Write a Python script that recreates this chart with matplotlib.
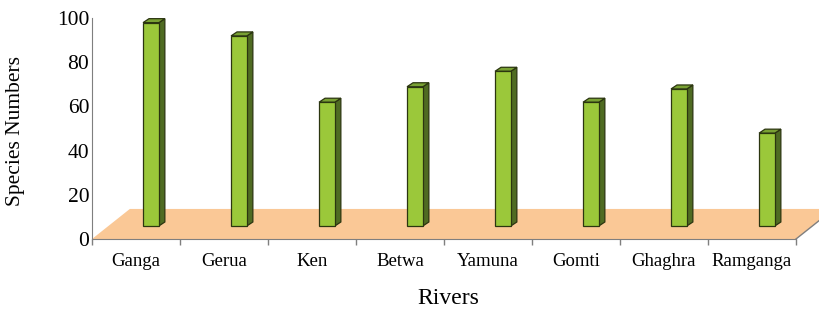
import matplotlib.pyplot as plt
from matplotlib.patches import Polygon
import numpy as np

# data
rivers = ['Ganga', 'Gerua', 'Ken', 'Betwa', 'Yamuna', 'Gomti', 'Ghaghra', 'Ramganga']
species = [92, 86, 56, 63, 70, 56, 62, 42]
yticks = [0, 20, 40, 60, 80, 100]

plt.rcParams['font.family'] = 'Liberation Serif'

# pseudo-3D settings (data units)
floor_dx, floor_dy = 0.43, 13.6     # depth of the floor
bar_dx, bar_dy = 0.17, 5.9          # bars sit at this depth
side_dx, side_dy = 0.068, 1.8       # depth of each bar
bar_w = 0.18

front_c = '#9BC83A'
side_c = '#4F6B22'
top_c = '#79A133'
edge_c = '#2B3510'
floor_c = '#FAC896'
axis_c = '#7F7F7F'

fig = plt.figure(figsize=(8.2, 3.12), dpi=100)
ax = fig.add_axes([92 / 820, (312 - 239) / 312, (796 - 92) / 820, (239 - 18) / 312])
ax.set_xlim(-0.5, len(rivers) - 0.5)
ax.set_ylim(0, 100)

# floor
x0, x1 = -0.5, len(rivers) - 0.5
floor = Polygon([(x0, 0), (x1, 0), (x1 + floor_dx, floor_dy), (x0 + floor_dx, floor_dy)],
                closed=True, facecolor=floor_c, edgecolor='none', zorder=1, clip_on=False)
ax.add_patch(floor)
ax.plot([x1, x1 + floor_dx], [0, floor_dy], color=axis_c, lw=1.0, zorder=1.5, clip_on=False)

# bars
x = np.arange(len(rivers))
xc = x + bar_dx
ax.bar(xc, species, width=bar_w, bottom=bar_dy, color=front_c, edgecolor=edge_c,
       linewidth=0.9, zorder=3, clip_on=False)
for xi, v in zip(xc, species):
    xl, xr = xi - bar_w / 2, xi + bar_w / 2
    yb, yt = bar_dy, bar_dy + v
    side = Polygon([(xr, yb), (xr + side_dx, yb + side_dy), (xr + side_dx, yt + side_dy), (xr, yt)],
                   closed=True, facecolor=side_c, edgecolor=edge_c, linewidth=0.9, zorder=2.9, clip_on=False)
    top = Polygon([(xl, yt), (xr, yt), (xr + side_dx, yt + side_dy), (xl + side_dx, yt + side_dy)],
                  closed=True, facecolor=top_c, edgecolor=edge_c, linewidth=0.9, zorder=2.9, clip_on=False)
    ax.add_patch(side)
    ax.add_patch(top)

# axes styling
for s in ['top', 'right']:
    ax.spines[s].set_visible(False)
ax.spines['left'].set_color(axis_c)
ax.spines['bottom'].set_color(axis_c)
ax.spines['left'].set_zorder(4)
ax.spines['bottom'].set_zorder(4)

ax.set_yticks(yticks)
ax.set_yticklabels([str(t) for t in yticks], fontsize=15.5)
ax.tick_params(axis='y', length=0, pad=2)

ax.set_xticks(x)
ax.set_xticklabels(rivers, fontsize=13.5)
ax.set_xticks(np.arange(-0.5, len(rivers), 1.0), minor=True)
ax.tick_params(axis='x', which='major', length=0, pad=10)
ax.tick_params(axis='x', which='minor', length=4, color=axis_c, width=1.0)

fig.text(16 / 820, 1 - 131 / 312, 'Species Numbers', rotation=90, ha='center', va='center', fontsize=15.5)
fig.text(448 / 820, 1 - 298 / 312, 'Rivers', ha='center', va='center', fontsize=17)

fig.savefig('out.png', dpi=100, facecolor='white')
